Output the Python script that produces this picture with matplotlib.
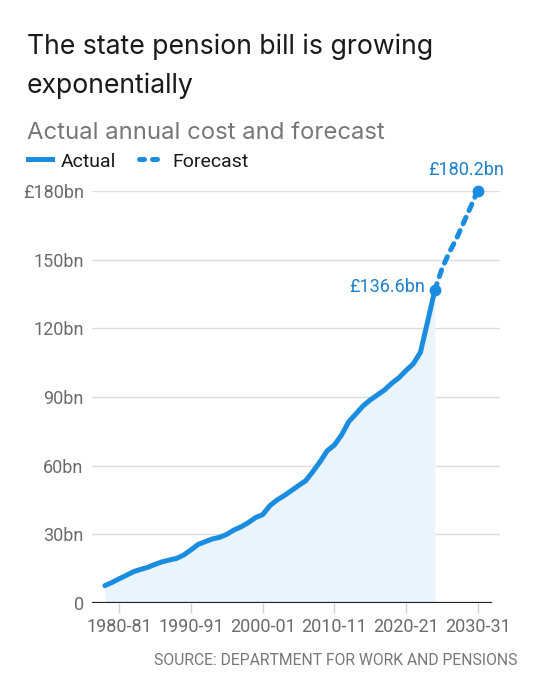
import matplotlib
matplotlib.use('Agg')
import matplotlib.pyplot as plt
from matplotlib.lines import Line2D

# Datos (miles de millones de libras, años fiscales: 1978 = 1978-79)
anios_real = list(range(1978, 2025))
coste_real = [7.6, 9.0, 10.6, 12.1, 13.7, 14.7, 15.6, 16.9, 18.0, 18.8,
              19.5, 21.0, 23.2, 25.6, 26.8, 28.0, 28.7, 30.0, 31.9, 33.3,
              35.1, 37.3, 38.6, 42.5, 45.0, 46.9, 49.1, 51.3, 53.4, 57.4,
              61.7, 66.5, 69.0, 73.4, 79.2, 82.6, 86.1, 88.7, 90.9, 93.1,
              96.0, 98.4, 101.6, 104.5, 109.5, 122.9, 136.6]
anios_prev = list(range(2024, 2031))
coste_prev = [136.6, 146.0, 153.0, 159.0, 166.0, 173.0, 180.2]

ticks_x = [1980, 1990, 2000, 2010, 2020, 2030]
etiquetas_x = ['1980-81', '1990-91', '2000-01', '2010-11', '2020-21', '2030-31']
ticks_y = [0, 30, 60, 90, 120, 150, 180]
etiquetas_y = ['0', '30bn', '60bn', '90bn', '120bn', '150bn', '£180bn']

azul = '#1a8de0'
azul_texto = '#1f80cc'
gris = '#6b6b6b'
cond = ['Roboto', 'DejaVu Sans']

fig = plt.figure(figsize=(5.45, 6.8), dpi=100)
ax = fig.add_axes([92 / 545, 77 / 680, 408 / 545, 412 / 680])

ax.fill_between(anios_real, coste_real, 0, color='#e9f4fd', lw=0, zorder=1)
ax.plot(anios_real, coste_real, color=azul, lw=3.6, solid_capstyle='round',
        solid_joinstyle='round', zorder=3)
ax.plot(anios_prev, coste_prev, color=azul, lw=3.6, dashes=(1.4, 1.5),
        dash_capstyle='round', zorder=3)
ax.plot([anios_real[-1], anios_prev[-1]], [coste_real[-1], coste_prev[-1]], 'o',
        color=azul, ms=7.5, zorder=4, clip_on=False)

ax.text(anios_prev[-1] - 1.6, coste_prev[-1] + 5, '£%.1fbn' % coste_prev[-1],
        color=azul_texto, fontsize=13, family=cond, ha='center', va='bottom')
ax.text(anios_real[-1] - 1.4, coste_real[-1] + 1.5, '£%.1fbn' % coste_real[-1],
        color=azul_texto, fontsize=13, family=cond, ha='right', va='center')

for v in ticks_y[1:]:
    ax.axhline(v, color='#dcdcdc', lw=1, zorder=0)
ax.axhline(0, xmin=0, xmax=(491 - 92) / 408, color='#222222', lw=1.6, zorder=5)

ax.set_xlim(1976.2, 2033.1)
ax.set_ylim(0, 180)
ax.set_xticks(ticks_x)
ax.set_xticklabels(etiquetas_x, family=cond, fontsize=13, color=gris)
ax.set_yticks(ticks_y)
ax.set_yticklabels(etiquetas_y, family=cond, fontsize=13, color=gris)
ax.tick_params(axis='x', length=7, color='#cfcfcf', width=1, pad=4)
ax.tick_params(axis='y', length=0, pad=6)
for s in ax.spines.values():
    s.set_visible(False)

# Títulos
fig.text(27 / 545, 1 - 54 / 680, 'The state pension bill is growing',
         fontsize=19.2, family='Inter', color='#1a1a1a', va='baseline')
fig.text(27 / 545, 1 - 93 / 680, 'exponentially',
         fontsize=19.2, family='Inter', color='#1a1a1a', va='baseline')
fig.text(27 / 545, 1 - 139 / 680, 'Actual annual cost and forecast',
         fontsize=17.2, family='Inter', color='#777777', va='baseline')

# Leyenda
fig.add_artist(Line2D([28 / 545, 52 / 545], [1 - 159 / 680] * 2, color=azul, lw=3.6))
fig.text(61 / 545, 1 - 167 / 680, 'Actual', fontsize=14, family=cond,
         color='#1a1a1a', va='baseline')
fig.add_artist(Line2D([139 / 545, 159 / 545], [1 - 159 / 680] * 2, color=azul, lw=3.6,
                      dashes=(1.0, 1.6), dash_capstyle='round'))
fig.text(172 / 545, 1 - 167 / 680, 'Forecast', fontsize=14, family=cond,
         color='#1a1a1a', va='baseline')

fig.text(517 / 545, 1 - 665 / 680, 'SOURCE: DEPARTMENT FOR WORK AND PENSIONS',
         fontsize=11.3, family=cond, color='#777777', ha='right', va='baseline')

fig.savefig('out.png', dpi=100)
